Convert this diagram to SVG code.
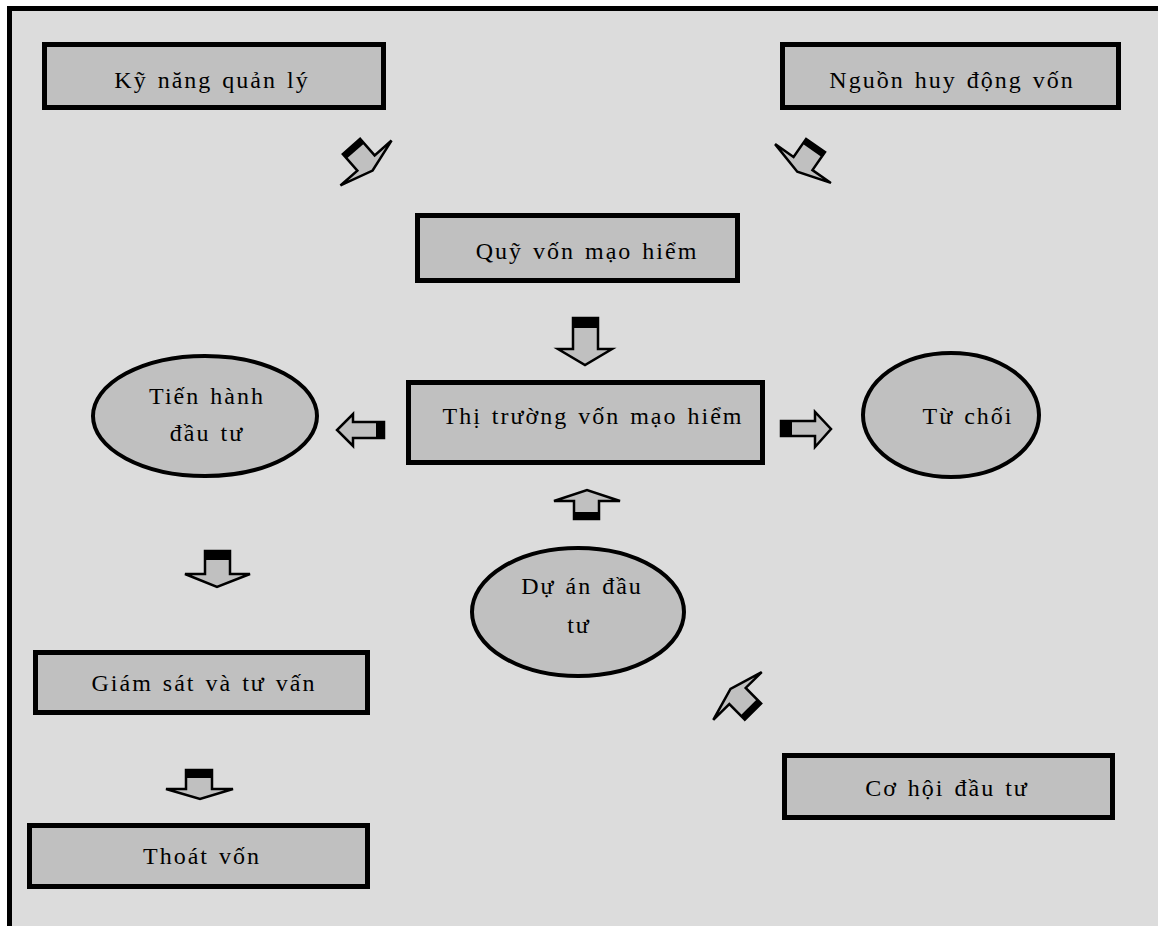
<svg xmlns="http://www.w3.org/2000/svg" width="1158" height="926" viewBox="0 0 1158 926">
<style>
.box{fill:#c0c0c0;stroke:#000;stroke-width:5}
.ell{fill:#c0c0c0;stroke:#000;stroke-width:4}
.t{font-family:"Liberation Serif","Times New Roman",serif;font-size:24px;letter-spacing:2px;word-spacing:2px;fill:#000;text-anchor:middle}
.ar{fill:#c0c0c0;stroke:#000;stroke-width:2.5;stroke-linejoin:miter}
.tail{fill:#000}
</style>
<rect x="0" y="0" width="1158" height="926" fill="#fff"/>
<rect x="9.5" y="8.5" width="1160" height="930" fill="#dcdcdc" stroke="#000" stroke-width="5"/>
<g id="n-kynang"><rect class="box" x="44.5" y="44.5" width="339" height="63"/><text class="t" x="212" y="88">Kỹ năng quản lý</text></g>
<g id="n-nguon"><rect class="box" x="782.5" y="44.5" width="336" height="63"/><text class="t" x="952" y="88">Nguồn huy động vốn</text></g>
<g id="n-quy"><rect class="box" x="417.5" y="215.5" width="320" height="65"/><text class="t" x="587" y="259">Quỹ vốn mạo hiểm</text></g>
<g id="n-thitruong"><rect class="box" x="408.5" y="382.5" width="354" height="80"/><text class="t" x="593" y="424">Thị trường vốn mạo hiểm</text></g>
<g id="n-tienhanh"><ellipse class="ell" cx="205" cy="416" rx="112" ry="60"/><text class="t" x="207" y="404">Tiến hành</text><text class="t" x="207" y="441">đầu tư</text></g>
<g id="n-tuchoi"><ellipse class="ell" cx="951" cy="415" rx="88" ry="62"/><text class="t" x="968" y="424">Từ chối</text></g>
<g id="n-duan"><ellipse class="ell" cx="578" cy="612" rx="106" ry="64"/><text class="t" x="582" y="594">Dự án đầu</text><text class="t" x="579" y="633">tư</text></g>
<g id="n-giamsat"><rect class="box" x="35.5" y="652.5" width="332" height="60"/><text class="t" x="204" y="691">Giám sát và tư vấn</text></g>
<g id="n-thoat"><rect class="box" x="29.5" y="825.5" width="338" height="61"/><text class="t" x="202" y="864">Thoát vốn</text></g>
<g id="n-cohoi"><rect class="box" x="784.5" y="755.5" width="328" height="62"/><text class="t" x="947" y="796">Cơ hội đầu tư</text></g>
<g id="connectors">
<polygon class="ar" points="573,318 598,318 598,349 612,349 585,365 558,349 573,349"/>
<rect class="tail" x="573" y="318" width="25" height="10"/>
<polygon class="ar" points="384,422 384,438 353,438 353,446 337,430 353,414 353,422"/>
<rect class="tail" x="376" y="422" width="8" height="16"/>
<polygon class="ar" points="781,421 781,436 815,436 815,447 831,429 815,412 815,421"/>
<rect class="tail" x="781" y="421" width="11" height="15"/>
<polygon class="ar" points="574,519 599,519 599,501 620,501 587,490 554,501 574,501"/>
<rect class="tail" x="574" y="512" width="25" height="7"/>
<polygon class="ar" points="205,551 230,551 230,574 250,574 217,587 185,574 205,574"/>
<rect class="tail" x="205" y="551" width="25" height="9"/>
<polygon class="ar" points="186,770 212,770 212,789 233,789 200,799 166,789 186,789"/>
<rect class="tail" x="186" y="770" width="26" height="8"/>
<g transform="translate(366,163) rotate(48.7)">
<polygon class="ar" points="-22,-11.5 0,-11.5 0,-34 10,0 0,34 0,11.5 -22,11.5"/>
<rect class="tail" x="-22" y="-11.5" width="6" height="23"/>
</g>
<g transform="translate(803,163.5) rotate(124.8)">
<polygon class="ar" points="-22,-11.5 0,-11.5 0,-34 10,0 0,34 0,11.5 -22,11.5"/>
<rect class="tail" x="-22" y="-11.5" width="6" height="23"/>
</g>
<g transform="translate(737.5,696) rotate(225.4)">
<polygon class="ar" points="-22,-11.5 0,-11.5 0,-34 10,0 0,34 0,11.5 -22,11.5"/>
<rect class="tail" x="-22" y="-11.5" width="6" height="23"/>
</g>
</g>
</svg>
